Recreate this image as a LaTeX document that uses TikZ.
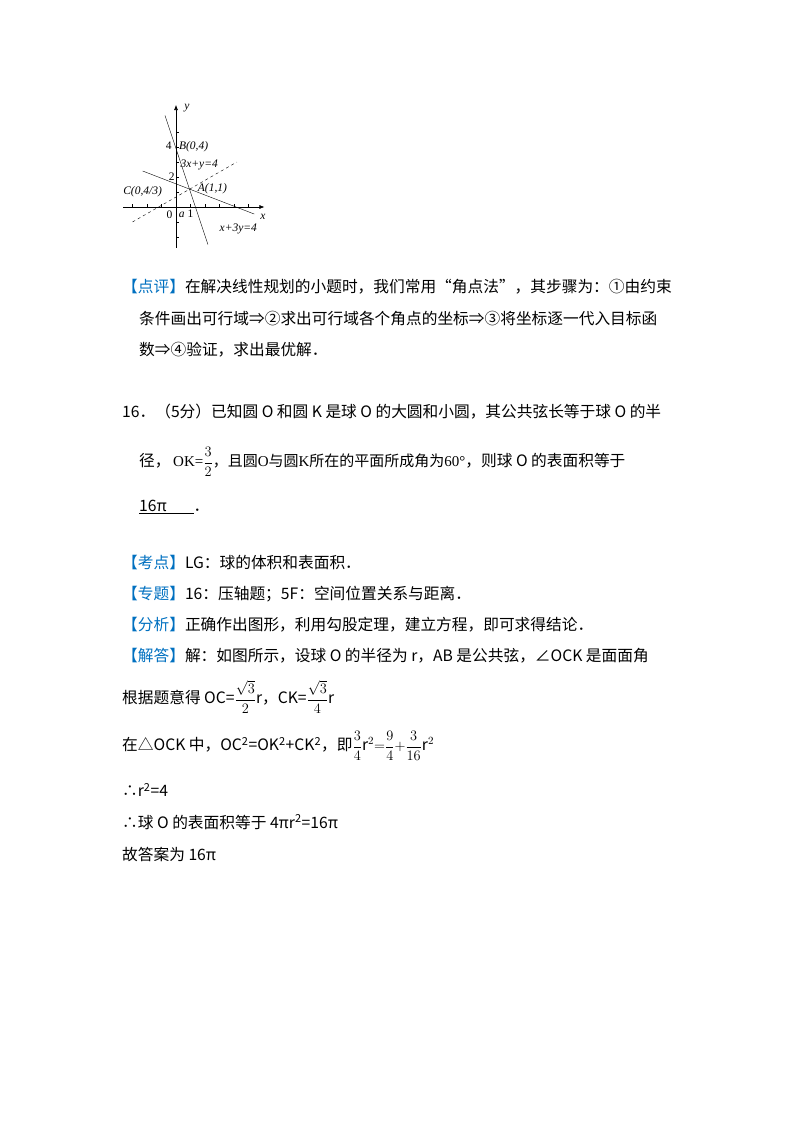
\documentclass[tikz,border=0pt]{standalone}
\usepackage{fontspec}
\setmainfont{Noto Sans CJK SC}
\newfontfamily\gserif{Liberation Serif}
\usetikzlibrary{arrows.meta}
\definecolor{hdblue}{RGB}{0,112,192}
\tikzset{tx/.style={anchor=west,inner sep=0pt,font=\fontsize{15.7}{18}\selectfont},
 gl/.style={font=\gserif\itshape\fontsize{11.5}{12}\selectfont,inner sep=0pt},
 gn/.style={font=\gserif\fontsize{11.5}{12}\selectfont,inner sep=0pt}}
\newcommand{\hd}[1]{\textcolor{hdblue}{【#1】}}
\newcommand{\smf}[1]{{\fontsize{15}{16}\selectfont #1}}
\begin{document}
\begin{tikzpicture}[x=1pt,y=-1pt]
\useasboundingbox (0,0) rectangle (800,1132);
\begin{scope}[shift={(176,207)},x=14.5pt,y=15pt]
\draw[-{Latex[length=5pt,width=4pt]},semithick] (-3.65,0) -- (6.1,0);
\draw[-{Latex[length=5pt,width=4pt]},semithick] (0,-2.7) -- (0,6.8);
\foreach \i in {-3,...,5} \draw (\i,0) -- (\i,0.2);
\foreach \j in {-2,-1,1,2,3,4,5} \draw (0,\j) -- (0.2,\j);
\draw (-0.76,6.1) -- (2.2,-2.5);
\draw (-2.3,2.4) -- (5.4,-0.47);
\draw[dashed] (-3,-1) -- (4.2,3);
\node[gl] (ly) at (0.75,6.6) {y};
\node[gl] (lx) at (6.0,-0.65) {x};
\node[gn] (l4) at (-0.5,4.1) {4};
\node[gn] (l2) at (-0.3,2.0) {2};
\node[gn] (l0) at (-0.45,-0.5) {0};
\node[gl] (la) at (0.4,-0.5) {a};
\node[gn] (l1) at (1.0,-0.45) {1};
\node[gl,anchor=west] (lB) at (0.2,4.0) {B(0,4)};
\node[gl,anchor=west] (lE1) at (0.3,2.83) {3x+y=4};
\node[gl,anchor=west] (lA) at (1.5,1.2) {A(1,1)};
\node[gl,anchor=west] (lC) at (-3.65,1.0) {C(0,4/3)};
\node[gl,anchor=west] (lE2) at (3.0,-1.45) {x+3y=4};
\end{scope}
\node[tx] (t1) at (122,287) {\hd{点评}在解决线性规划的小题时，我们常用“角点法”，其步骤为：①由约束};
\node[tx] (t2) at (139,319) {条件画出可行域⇒②求出可行域各个角点的坐标⇒③将坐标逐一代入目标函};
\node[tx] (t3) at (139,350) {数⇒④验证，求出最优解．};
\node[tx] (t4) at (122,412) {16．（5分）已知圆 O 和圆 K 是球 O 的大圆和小圆，其公共弦长等于球 O 的半};
\node[tx] (t5) at (139,462) {径，\,\smf{{\gserif OK=}$\displaystyle\frac{3}{2}$，且圆{\gserif O}与圆{\gserif K}所在的平面所成角为{\gserif 60°}}，则球 O 的表面积等于};
\node[tx] (t6) at (139,507) {\underline{16π\hspace{1.7em}}．};
\node[tx] (t7) at (122,563) {\hd{考点}LG：球的体积和表面积．};
\node[tx] (t8) at (122,594) {\hd{专题}16：压轴题；5F：空间位置关系与距离．};
\node[tx] (t9) at (122,625) {\hd{分析}正确作出图形，利用勾股定理，建立方程，即可求得结论．};
\node[tx] (t10) at (122,656) {\hd{解答}解：如图所示，设球 O 的半径为 r，AB 是公共弦，∠OCK 是面面角};
\node[tx] (t11) at (122,697) {根据题意得 OC=$\displaystyle\frac{\sqrt{3}}{2}\mathrm{r}$，CK=$\displaystyle\frac{\sqrt{3}}{4}\mathrm{r}$};
\node[tx] (t12) at (122,746) {在△OCK 中，OC\textsuperscript{2}=OK\textsuperscript{2}+CK\textsuperscript{2}，即$\displaystyle\frac{3}{4}\mathrm{r}^{2}{=}\frac{9}{4}{+}\frac{3}{16}\mathrm{r}^{2}$};
\node[tx] (t13) at (122,790) {∴r\textsuperscript{2}=4};
\node[tx] (t14) at (122,822) {∴球 O 的表面积等于 4πr\textsuperscript{2}=16π};
\node[tx] (t15) at (122,854) {故答案为 16π};
\end{tikzpicture}
\end{document}
